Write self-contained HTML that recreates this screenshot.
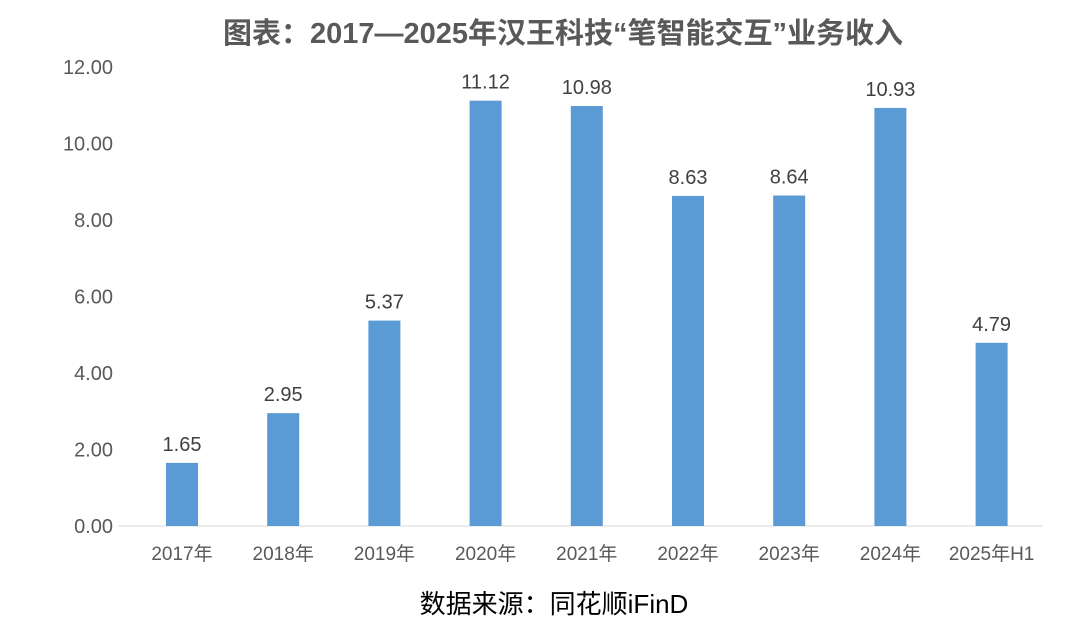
<!DOCTYPE html>
<html><head><meta charset="utf-8"><style>
body{margin:0;background:#fff;}
svg{display:block;font-family:"Liberation Sans","Noto Sans CJK SC",sans-serif;}
</style></head><body>
<svg id="chart" width="1080" height="635">
<text x="563" y="43" text-anchor="middle" font-size="29" font-weight="bold" fill="#595959">图表：2017—2025年汉王科技“笔智能交互”业务收入</text>
<text x="554" y="613" text-anchor="middle" font-size="26" fill="#000">数据来源：同花顺iFinD</text>
<g id="axes"></g><g id="bars"></g>
</svg>
<script>
const categories=["2017年","2018年","2019年","2020年","2021年","2022年","2023年","2024年","2025年H1"];
const values=[1.65,2.95,5.37,11.12,10.98,8.63,8.64,10.93,4.79];
const labels=["1.65","2.95","5.37","11.12","10.98","8.63","8.64","10.93","4.79"];
const yTicks=[0,2,4,6,8,10,12];
const yTickLabels=["0.00","2.00","4.00","6.00","8.00","10.00","12.00"];
const NS="http://www.w3.org/2000/svg";
const y0=526,yTop=67,yMax=12,left=131.4,step=101.2,bw=32;
const y=v=>y0-(v/yMax)*(y0-yTop);
const x=i=>left+step*i+step/2;
function mk(t,a,p){const e=document.createElementNS(NS,t);for(const k in a)e.setAttribute(k,a[k]);p.appendChild(e);return e;}
const ax=document.getElementById('axes'),bg=document.getElementById('bars');
yTicks.forEach((t,i)=>{const e=mk('text',{x:113,y:y(t)+7,'text-anchor':'end','font-size':20,fill:'#595959'},ax);e.textContent=yTickLabels[i];

});
const base=mk('line',{x1:118,x2:1043,y1:y0,y2:y0,stroke:'#d9d9d9','stroke-width':1},ax);


categories.forEach((c,i)=>{
const r=mk('rect',{x:x(i)-bw/2,y:y(values[i]),width:bw,height:y0-y(values[i]),fill:'#5b9bd5'},bg);


const l=mk('text',{x:x(i),y:y(values[i])-12,'text-anchor':'middle','font-size':20,fill:'#404040'},bg);l.textContent=labels[i];


const t=mk('text',{x:x(i),y:y0+34,'text-anchor':'middle','font-size':19,fill:'#595959'},ax);t.textContent=c;


});
</script>
</body></html>
